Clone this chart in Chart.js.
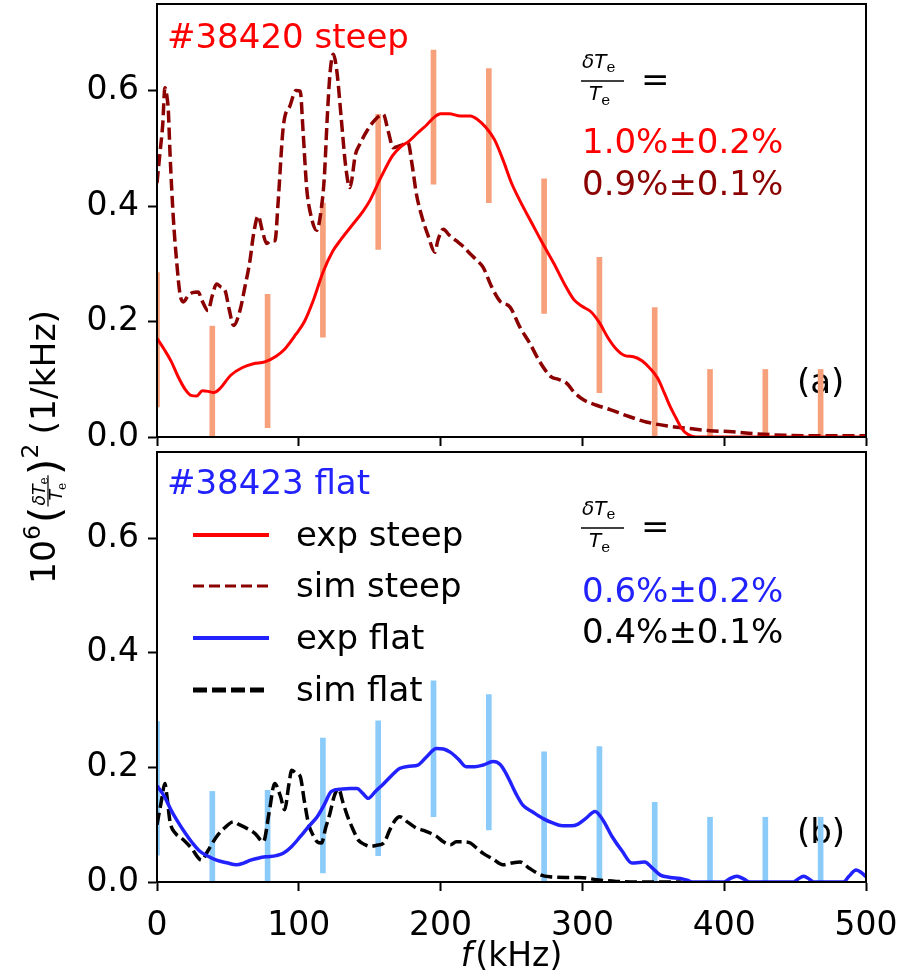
<!DOCTYPE html>
<html><head><meta charset="utf-8">
<script src="https://cdn.jsdelivr.net/npm/chart.js@4/dist/chart.umd.min.js"></script>
<style>
html,body{margin:0;padding:0;background:#fff;}
#wrap{position:relative;width:904px;height:976px;background:#fff;}
canvas{position:absolute;left:0;top:0;}
</style></head><body>
<div id="wrap"><canvas id="ca" width="904" height="976"></canvas><canvas id="cb" width="904" height="976"></canvas></div>
<script>
// ---------- data ----------
const xTicks = [0, 100, 200, 300, 400, 500];
const yTicks = [0.0, 0.2, 0.4, 0.6];

const barFreq = [0, 39, 78, 117, 156, 195, 234, 273, 312, 351, 390, 429, 468];
const steepErrLow  = [0.052, 0, 0.016, 0.173, 0.325, 0.438, 0.406, 0.214, 0.077, 0, 0, 0, 0];
const steepErrHigh = [0.285, 0.192, 0.247, 0.405, 0.559, 0.670, 0.638, 0.447, 0.311, 0.224, 0.117, 0.117, 0.117];
const flatErrLow   = [0.047, 0, 0, 0.016, 0.046, 0.114, 0.091, 0, 0, 0, 0, 0, 0];
const flatErrHigh  = [0.280, 0.158, 0.160, 0.251, 0.281, 0.351, 0.327, 0.227, 0.236, 0.139, 0.113, 0.113, 0.113];

const expSteepF = [0,5,10,15,20,24,28,32,36,40,44,52,60,68,76,84,90,98,104,110,117,124,130,138,145,150,158,166,172,178,184,190,196,200,206,214,221,226,232,238,244,250,256,264,272,280,288,294,300,306,312,318,324,330,336,342,348,353,358,362,366,370,374,380,420,460,500];
const expSteepY = [0.171,0.152,0.131,0.104,0.082,0.072,0.071,0.080,0.079,0.077,0.083,0.107,0.120,0.127,0.130,0.140,0.152,0.178,0.200,0.235,0.285,0.322,0.343,0.368,0.390,0.409,0.450,0.487,0.503,0.513,0.527,0.540,0.555,0.560,0.560,0.556,0.556,0.550,0.536,0.515,0.480,0.440,0.409,0.372,0.335,0.300,0.262,0.238,0.226,0.217,0.198,0.172,0.152,0.141,0.139,0.132,0.118,0.102,0.075,0.052,0.033,0.015,0.005,0,0,0,0];

const simSteepF = [0,2,4,5.6,7,8,9.2,11.5,14,16.2,18.6,22,25,29,32,36,39,42,45,48,51,54,58.5,62,65.6,68,71.4,74,77.4,80,83.2,85.5,89,94,98,101,103,105.6,108,112.6,116,118,120,122,124.4,127,130,133,136,140,143,148,154,159.6,163,166.6,172,177,180,183,187,191,196,198,202,206,211,216,221,226,230,236,242,249,256,263,270,278,283,289,294,301,310,320,330,345,360,374,390,406,420,442,470,500];
const simSteepY = [0.44,0.49,0.54,0.605,0.59,0.565,0.49,0.38,0.30,0.248,0.234,0.245,0.25,0.251,0.235,0.219,0.245,0.265,0.26,0.254,0.22,0.193,0.219,0.26,0.306,0.35,0.383,0.36,0.335,0.34,0.34,0.41,0.536,0.575,0.60,0.599,0.53,0.43,0.39,0.358,0.398,0.45,0.55,0.63,0.663,0.63,0.55,0.47,0.432,0.49,0.507,0.53,0.55,0.559,0.53,0.501,0.505,0.51,0.47,0.42,0.38,0.35,0.32,0.34,0.36,0.35,0.34,0.33,0.317,0.305,0.294,0.26,0.235,0.225,0.19,0.162,0.13,0.104,0.10,0.093,0.078,0.064,0.055,0.047,0.038,0.026,0.019,0.015,0.011,0.009,0.006,0.003,0.002,0.002];

const expFlatF = [0,5,10,14,20,25,30,36,42,50,56,61,66,72,77,84,89,95,101,107,113,118,123,130,136,141,145,149,154,160,166,171,178,184,190,197,202,207,213,218,224,230,237,242,246,250,254,258,265,272,279,286,292,297,302,309,314,321,328,335,340,344,349,355,362,369,374,378,400,404,409,414,418,449,452,456,460,463,484,488,493,497,500];
const expFlatY = [0.168,0.15,0.125,0.108,0.085,0.068,0.054,0.045,0.038,0.033,0.030,0.033,0.038,0.042,0.044,0.046,0.050,0.062,0.079,0.097,0.114,0.135,0.158,0.162,0.163,0.163,0.155,0.146,0.158,0.172,0.187,0.198,0.202,0.204,0.218,0.233,0.232,0.226,0.213,0.201,0.201,0.204,0.210,0.205,0.19,0.17,0.15,0.134,0.122,0.111,0.103,0.098,0.098,0.101,0.11,0.123,0.11,0.079,0.054,0.033,0.034,0.035,0.025,0.012,0.008,0.006,0.003,0,0,0.006,0.010,0.005,0,0,0.005,0.010,0.005,0,0,0.01,0.021,0.016,0.009];

const simFlatF = [0,3,5.6,7,9.2,13,18,24,31.5,36,42,48,54,58,63,69,75,79,83,87,90,93,95,98,101,104,107,110,113,116,119,122,125,128,131,134,138,142,146,150,155,160,164,168,171,177,183,188,193,197,202,207,211,216,221,226,230,237,244,250,256,262,270,277,288,298,310,324,340,370];
const simFlatY = [0.10,0.14,0.172,0.15,0.105,0.085,0.075,0.06,0.038,0.055,0.079,0.095,0.105,0.10,0.094,0.085,0.07,0.12,0.172,0.15,0.126,0.17,0.195,0.19,0.184,0.14,0.10,0.082,0.07,0.068,0.095,0.12,0.15,0.163,0.14,0.117,0.093,0.073,0.066,0.062,0.064,0.068,0.09,0.108,0.114,0.104,0.094,0.09,0.085,0.08,0.07,0.065,0.07,0.07,0.068,0.058,0.05,0.04,0.03,0.033,0.035,0.025,0.013,0.009,0.008,0.008,0.004,0.001,0,0];

const legendLabels = ['exp steep', 'sim steep', 'exp flat', 'sim flat'];
const panelTitles  = ['#38420 steep', '#38423 flat'];
const panelLetters = ['(a)', '(b)'];
const expAmplitude = ['1.0%±0.2%', '0.6%±0.2%'];
const simAmplitude = ['0.9%±0.1%', '0.4%±0.1%'];
const xTitleParts = ['f', '(kHz)'];

// ---------- styles ----------
const RED = '#ff0000', DARKRED = '#8b0000', BLUE = '#2222ff', BLACK = '#000000';
const SALMON = '#f7a07c', SKY = '#8acbfa';
const FONT = '"DejaVu Sans"';
const legendStyles = [
  {color: RED, dash: [], width: 4},
  {color: DARKRED, dash: [11, 5], width: 3},
  {color: BLUE, dash: [], width: 4},
  {color: BLACK, dash: [14, 5], width: 5}
];

Chart.defaults.font.family = FONT;

function pts(fs, ys) { return fs.map((f, i) => ({x: f, y: ys[i]})); }
function bars(lo, hi) { return barFreq.map((f, i) => ({x: f, y: [lo[i], hi[i]]})); }

function lineDS(label, fs, ys, color, width, dash) {
  return {type: 'line', label, data: pts(fs, ys), borderColor: color, borderWidth: width,
          borderDash: dash, pointRadius: 0, cubicInterpolationMode: 'monotone', fill: false, order: 0};
}
function barDS(label, lo, hi, color) {
  return {type: 'bar', label, data: bars(lo, hi), backgroundColor: color, borderWidth: 0,
          barThickness: 5, grouped: false, order: 1};
}

function drawFrac(ctx, x, lineY, color) {
  ctx.save();
  ctx.fillStyle = color; ctx.strokeStyle = color;
  ctx.textAlign = 'left'; ctx.textBaseline = 'alphabetic';
  ctx.font = 'italic 20px ' + FONT;
  ctx.fillText('δT', x + 1, lineY - 13);
  let w = ctx.measureText('δT').width;
  ctx.font = '15px "DejaVu Serif"';
  ctx.fillText('e', x + 1 + w, lineY - 9);
  ctx.lineWidth = 1.4;
  ctx.beginPath(); ctx.moveTo(x, lineY); ctx.lineTo(x + 43, lineY); ctx.stroke();
  ctx.font = 'italic 20px ' + FONT;
  ctx.fillText('T', x + 8, lineY + 19);
  w = ctx.measureText('T').width;
  ctx.font = '15px "DejaVu Serif"';
  ctx.fillText('e', x + 8 + w, lineY + 24);
  ctx.font = '34px ' + FONT;
  ctx.fillStyle = BLACK;
  ctx.fillText('=', x + 60, lineY + 10);
  ctx.restore();
}

function framePlugin() {
  return {
    id: 'frame',
    afterDraw(chart) {
      const a = chart.chartArea, ctx = chart.ctx;
      ctx.save(); ctx.strokeStyle = '#000'; ctx.lineWidth = 2;
      ctx.strokeRect(a.left, a.top, a.right - a.left, a.bottom - a.top);
      ctx.restore();
    }
  };
}

function textPlugin(idx, titleColor, expColor, simColor) {
  const dy = idx * 447;
  return {
    id: 'panelText' + idx,
    beforeDatasetsDraw(chart) {
      const ctx = chart.ctx;
      ctx.save();
      ctx.fillStyle = BLACK; ctx.textAlign = 'left'; ctx.textBaseline = 'alphabetic';
      ctx.font = '34px ' + FONT;
      ctx.fillText(panelLetters[idx], 797, 393 + idx * 450);
      ctx.restore();
    },
    afterDraw(chart) {
      const ctx = chart.ctx;
      ctx.save();
      ctx.textAlign = 'left'; ctx.textBaseline = 'alphabetic';
      ctx.font = '34px ' + FONT;
      ctx.fillStyle = titleColor;
      ctx.fillText(panelTitles[idx], 167, 48 + idx * 446);
      drawFrac(ctx, 581, 81 + dy, BLACK);
      ctx.font = '34px ' + FONT;
      ctx.fillStyle = expColor;
      ctx.fillText(expAmplitude[idx], 582, 153 + idx * 449);
      ctx.fillStyle = simColor;
      ctx.fillText(simAmplitude[idx], 582, 195 + idx * 448);
      ctx.restore();
    }
  };
}

const legendPlugin = {
  id: 'legendCustom',
  afterDraw(chart) {
    const ctx = chart.ctx;
    const baselines = [546, 597, 649, 701];
    ctx.save();
    legendLabels.forEach((lab, i) => {
      const st = legendStyles[i];
      const ly = baselines[i] - 11;
      ctx.strokeStyle = st.color; ctx.lineWidth = st.width; ctx.setLineDash(st.dash);
      ctx.lineCap = 'butt';
      ctx.beginPath(); ctx.moveTo(193, ly); ctx.lineTo(269, ly); ctx.stroke();
      ctx.setLineDash([]);
      ctx.fillStyle = BLACK; ctx.font = '34px ' + FONT;
      ctx.textAlign = 'left'; ctx.textBaseline = 'alphabetic';
      ctx.fillText(lab, 296, baselines[i]);
    });
    ctx.restore();
  }
};

const axisTitlePlugin = {
  id: 'axisTitles',
  afterDraw(chart) {
    const ctx = chart.ctx;
    const a = chart.chartArea;
    ctx.save();
    ctx.fillStyle = BLACK; ctx.textBaseline = 'alphabetic'; ctx.textAlign = 'left';
    // x title: italic f + (kHz)
    ctx.font = 'italic 33px ' + FONT;
    const wf = ctx.measureText(xTitleParts[0]).width;
    ctx.font = '33px ' + FONT;
    const wk = ctx.measureText(xTitleParts[1]).width;
    const x0 = (a.left + a.right) / 2 - (wf + wk + 3) / 2;
    ctx.font = 'italic 33px ' + FONT;
    ctx.fillText(xTitleParts[0], x0, 966);
    ctx.font = '33px ' + FONT;
    ctx.fillText(xTitleParts[1], x0 + wf + 3, 966);

    // y title (rotated)
    const pieces = [
      {t: '10', f: '34px ' + FONT, dy: 0},
      {t: '6', f: '23px ' + FONT, dy: -15},
      {gap: 2},
      {t: '(', f: '42px ' + FONT, dy: 5},
      {frac: true, w: 31},
      {t: ')', f: '42px ' + FONT, dy: 5},
      {t: '2', f: '23px ' + FONT, dy: -17},
      {gap: 9},
      {t: '(1/kHz)', f: '34px ' + FONT, dy: 0}
    ];
    let total = 0;
    pieces.forEach(p => {
      if (p.gap) p.w = p.gap;
      else if (p.t) { ctx.font = p.f; p.w = ctx.measureText(p.t).width; }
      total += p.w;
    });
    const cx = 55, cy = 447;
    ctx.translate(cx, cy);
    ctx.rotate(-Math.PI / 2);
    const sc = 274 / total;
    ctx.scale(sc, 1);
    let x = -total / 2;
    pieces.forEach(p => {
      if (p.t) { ctx.font = p.f; ctx.fillText(p.t, x, p.dy); }
      else if (p.frac) {
        ctx.font = 'italic 17px ' + FONT;
        ctx.fillText('δT', x + 1, -10);
        let w = ctx.measureText('δT').width;
        ctx.font = '12px "DejaVu Serif"';
        ctx.fillText('e', x + 1 + w, -7);
        ctx.lineWidth = 1.2; ctx.strokeStyle = BLACK;
        ctx.beginPath(); ctx.moveTo(x, -7); ctx.lineTo(x + p.w, -7); ctx.stroke();
        ctx.font = 'italic 17px ' + FONT;
        ctx.fillText('T', x + 6, 7);
        w = ctx.measureText('T').width;
        ctx.font = '12px "DejaVu Serif"';
        ctx.fillText('e', x + 6 + w, 11);
      }
      x += p.w;
    });
    ctx.restore();
  }
};

function scales(xLabels, xHeight) {
  return {
    x: {
      type: 'linear', min: 0, max: 500, offset: false,
      afterBuildTicks: s => { s.ticks = xTicks.map(v => ({value: v})); },
      afterFit: s => { s.height = xHeight; s.paddingLeft = 0; s.paddingRight = 0; },
      grid: {drawOnChartArea: false, drawTicks: true, tickLength: 9, tickWidth: 2, tickColor: '#000', offset: false},
      border: {display: true, color: '#000', width: 2},
      ticks: {display: xLabels, color: '#000', font: {size: 33, family: FONT}, padding: 16,
              maxRotation: 0, autoSkip: false, callback: v => String(v)}
    },
    y: {
      type: 'linear', min: 0, max: 0.75,
      afterBuildTicks: s => { s.ticks = yTicks.map(v => ({value: v})); },
      afterFit: s => { s.width = 157; s.paddingTop = 0; s.paddingBottom = 0; },
      grid: {drawOnChartArea: false, drawTicks: true, tickLength: 9, tickWidth: 2, tickColor: '#000'},
      border: {display: true, color: '#000', width: 2},
      ticks: {color: '#000', font: {size: 33, family: FONT}, padding: 9, callback: v => Number(v).toFixed(1)}
    }
  };
}

function makeChart(id, datasets, padding, xLabels, xHeight, plugins) {
  return new Chart(document.getElementById(id), {
    type: 'line',
    data: {datasets},
    options: {
      responsive: false, animation: false, devicePixelRatio: 1, events: [],
      layout: {padding},
      plugins: {legend: {display: false}, tooltip: {enabled: false}},
      scales: scales(xLabels, xHeight)
    },
    plugins
  });
}

makeChart('ca', [
  lineDS('exp steep', expSteepF, expSteepY, RED, 3, []),
  lineDS('sim steep', simSteepF, simSteepY, DARKRED, 3.5, [12, 5]),
  barDS('err steep', steepErrLow, steepErrHigh, SALMON)
], {left: 0, right: 38, top: 4, bottom: 976 - 437 - 20}, false, 20,
  [framePlugin(), textPlugin(0, RED, RED, DARKRED)]);

makeChart('cb', [
  lineDS('exp flat', expFlatF, expFlatY, BLUE, 3.5, []),
  lineDS('sim flat', simFlatF, simFlatY, BLACK, 3.5, [12, 5]),
  barDS('err flat', flatErrLow, flatErrHigh, SKY)
], {left: 0, right: 38, top: 452, bottom: 0}, true, 94,
  [framePlugin(), textPlugin(1, BLUE, BLUE, BLACK), legendPlugin, axisTitlePlugin]);
</script>
</body></html>
